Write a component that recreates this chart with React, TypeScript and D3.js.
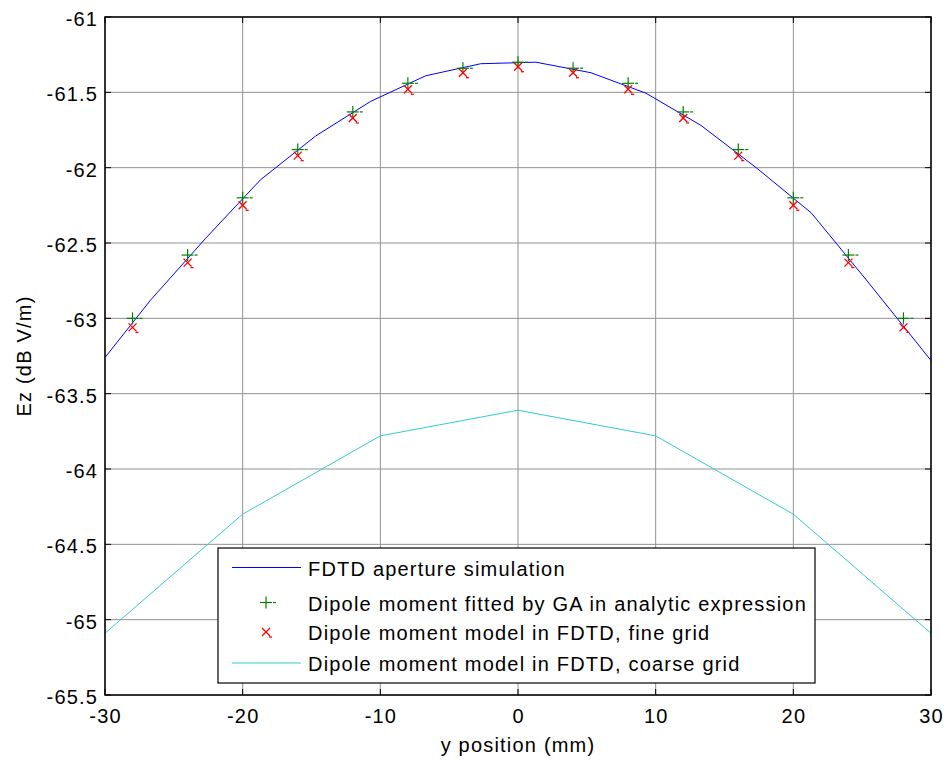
import React from "react";
import * as d3 from "d3";

const xTicks = [-30, -20, -10, 0, 10, 20, 30];
const yTicks = [-61, -61.5, -62, -62.5, -63, -63.5, -64, -64.5, -65, -65.5];

const fdtdX = [-30, -26.7, -22.7, -18.7, -14.7, -10.7, -6.7, -2.7, 1.3, 5.3, 9.3, 13.3, 17.3, 21.3, 25.3, 30];
const fdtdY = [-63.26, -62.88, -62.47, -62.08, -61.79, -61.56, -61.39, -61.31, -61.30, -61.37, -61.506, -61.72, -62.0, -62.3, -62.745, -63.28];

const markerX = [-28, -24, -20, -16, -12, -8, -4, 0, 4, 8, 12, 16, 20, 24, 28];
const gaY = [-63.0, -62.58, -62.2, -61.88, -61.63, -61.44, -61.34, -61.3, -61.34, -61.44, -61.63, -61.88, -62.2, -62.58, -63.0];
const fineY = [-63.06, -62.63, -62.25, -61.92, -61.67, -61.48, -61.37, -61.33, -61.37, -61.48, -61.67, -61.92, -62.25, -62.63, -63.06];

const coarseX = [-30, -20, -10, 0, 10, 20, 30];
const coarseY = [-65.09, -64.3, -63.78, -63.61, -63.78, -64.3, -65.09];

const legendLabels = [
  "FDTD aperture simulation",
  "Dipole moment fitted by GA in analytic expression",
  "Dipole moment model in FDTD, fine grid",
  "Dipole moment model in FDTD, coarse grid",
];

const W = 949, H = 760;
const L = 105, R = 931, T = 17, B = 695;
const font = "'Liberation Sans', Arial, sans-serif";
const FS = 20;
const LS = 1.2;

export default function App() {
  const x = d3.scaleLinear().domain([-30, 30]).range([L, R]);
  const y = d3.scaleLinear().domain([-61, -65.5]).range([T, B]);
  const line = d3.line<[number, number]>().x(d => x(d[0])).y(d => y(d[1]));
  const fdtd = line(fdtdX.map((v, i) => [v, fdtdY[i]]))!;
  const coarse = line(coarseX.map((v, i) => [v, coarseY[i]]))!;

  const plus = (cx: number, cy: number, k: string) => (
    <g key={k} stroke="#008000" strokeWidth={1.2}>
      <line x1={cx - 6} x2={cx + 6} y1={cy} y2={cy} />
      <line x1={cx} x2={cx} y1={cy - 6} y2={cy + 6} />
      <line x1={cx + 7} x2={cx + 10} y1={cy} y2={cy} />
    </g>
  );
  const cross = (cx: number, cy: number, k: string) => (
    <g key={k} stroke="#ff0000" strokeWidth={1.3}>
      <line x1={cx - 4} x2={cx + 4} y1={cy - 4} y2={cy + 4} />
      <line x1={cx - 4} x2={cx + 4} y1={cy + 4} y2={cy - 4} />
      <line x1={cx + 3} x2={cx + 6} y1={cy + 5} y2={cy + 5} />
    </g>
  );

  const lgX = 218, lgY = 548, lgW = 597, lgH = 135;
  const rowY = [567.5, 602.5, 632, 663];

  return (
    <svg width={W} height={H} style={{ position: "absolute", left: 0, top: 0, background: "#fff" }}>
      <rect x={0} y={0} width={W} height={H} fill="#fff" />
      {/* grid */}
      <g stroke="#808080" strokeWidth={1} opacity={0.85}>
        {xTicks.map(t => (
          <line key={"gx" + t} x1={x(t)} x2={x(t)} y1={T} y2={B} />
        ))}
        {yTicks.map(t => (
          <line key={"gy" + t} x1={L} x2={R} y1={y(t)} y2={y(t)} />
        ))}
      </g>
      {/* data */}
      <path d={fdtd} fill="none" stroke="#0000ff" strokeWidth={1} />
      <path d={coarse} fill="none" stroke="#33cccc" strokeWidth={1} />
      {markerX.map((v, i) => plus(x(v), y(gaY[i]), "p" + i))}
      {markerX.map((v, i) => cross(x(v), y(fineY[i]), "c" + i))}
      {/* axes box */}
      <rect x={L} y={T} width={R - L} height={B - T} fill="none" stroke="#000" strokeWidth={1.5} />
      <g stroke="#000" strokeWidth={1}>
        {xTicks.map(t => (
          <g key={"tx" + t}>
            <line x1={x(t)} x2={x(t)} y1={B} y2={B - 6} />
            <line x1={x(t)} x2={x(t)} y1={T} y2={T + 6} />
          </g>
        ))}
        {yTicks.map(t => (
          <g key={"ty" + t}>
            <line x1={L} x2={L + 6} y1={y(t)} y2={y(t)} />
            <line x1={R} x2={R - 6} y1={y(t)} y2={y(t)} />
          </g>
        ))}
      </g>
      <g fontFamily={font} fontSize={FS} fill="#000" letterSpacing={LS}>
        {xTicks.map(t => (
          <text key={"lx" + t} x={x(t) + LS / 2} y={B + 28} textAnchor="middle">{t}</text>
        ))}
        {yTicks.map(t => (
          <text key={"ly" + t} x={L - 8 + LS} y={y(t) + 9} textAnchor="end">{t}</text>
        ))}
        <text x={(L + R) / 2} y={752} textAnchor="middle">y position (mm)</text>
        <text transform={`translate(31,${(T + B) / 2}) rotate(-90)`} textAnchor="middle">Ez (dB V/m)</text>
      </g>
      {/* legend */}
      <rect x={lgX} y={lgY} width={lgW} height={lgH} fill="#fff" stroke="#000" strokeWidth={1.2} />
      <line x1={232} x2={301} y1={rowY[0]} y2={rowY[0]} stroke="#0000ff" strokeWidth={1} />
      {plus(266, rowY[1], "lp")}
      {cross(266, rowY[2], "lc")}
      <line x1={232} x2={301} y1={rowY[3]} y2={rowY[3]} stroke="#33cccc" strokeWidth={1} />
      <g fontFamily={font} fontSize={FS} fill="#000" letterSpacing={LS}>
        {legendLabels.map((s, i) => (
          <text key={"lg" + i} x={308} y={rowY[i] + 8}>{s}</text>
        ))}
      </g>
    </svg>
  );
}
